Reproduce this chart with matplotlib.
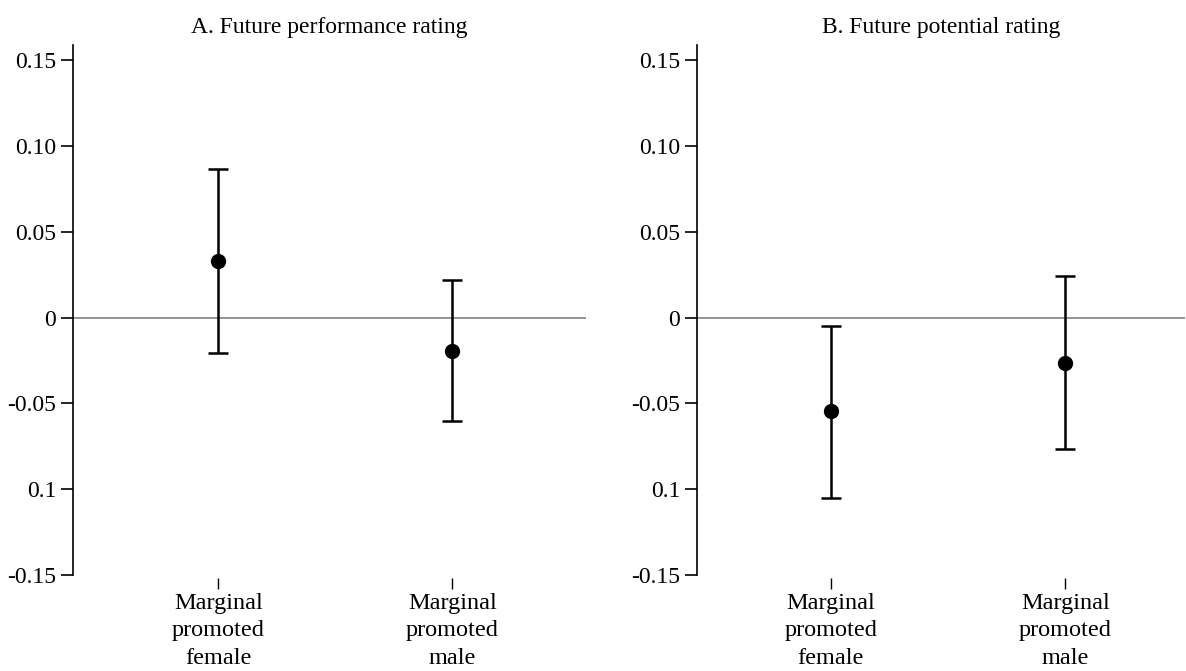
import numpy as np
import matplotlib
matplotlib.use("Agg")
import matplotlib.pyplot as plt

plt.rcParams['font.family'] = ['Liberation Serif', 'DejaVu Serif']

# Data
groups = ["Marginal\npromoted\nfemale", "Marginal\npromoted\nmale"]
titles = ["A. Future performance rating", "B. Future potential rating"]
perf_est = [0.033, -0.0195]
perf_lo = [-0.0205, -0.0605]
perf_hi = [0.0867, 0.0222]
pot_est = [-0.0545, -0.0263]
pot_lo = [-0.105, -0.0765]
pot_hi = [-0.0048, 0.0243]
ytick_vals = [0.15, 0.10, 0.05, 0, -0.05, -0.10, -0.15]
ytick_labels = ["0.15", "0.10", "0.05", "0", "-0.05", "0.1", "-0.15"]

fig = plt.figure(figsize=(11.86, 6.71), dpi=100)
ax_a = fig.add_axes([73 / 1186, 1 - 575 / 671, 513 / 1186, 530 / 671])
ax_b = fig.add_axes([697 / 1186, 1 - 575 / 671, 488 / 1186, 530 / 671])

panels = [
    (ax_a, perf_est, perf_lo, perf_hi, (0.38, 2.57)),
    (ax_b, pot_est, pot_lo, pot_hi, (0.43, 2.51)),
]

for i, (ax, est, lo, hi, xl) in enumerate(panels):
    x = np.arange(1, len(groups) + 1)
    est = np.array(est)
    yerr = [est - np.array(lo), np.array(hi) - est]
    ax.axhline(0, color='#808080', lw=1.2, zorder=1)
    ax.errorbar(x, est, yerr=yerr, fmt='o', color='black', ms=10,
                elinewidth=1.8, capsize=7, capthick=1.8, zorder=3)
    ax.set_xlim(*xl)
    ax.set_ylim(-0.15, 0.159)
    ax.set_yticks(ytick_vals)
    ax.set_yticklabels(ytick_labels)
    ax.set_xticks(x)
    ax.set_xticklabels(groups)
    for s in ['top', 'right', 'bottom']:
        ax.spines[s].set_visible(False)
    ax.spines['left'].set_linewidth(1.2)
    ax.spines['left'].set_bounds(-0.15, 0.159)
    ax.spines['bottom'].set_position(('outward', 2))
    ax.tick_params(axis='y', direction='out', length=9, width=1.2, labelsize=17, pad=3)
    ax.tick_params(axis='x', direction='out', length=8, width=1.0, labelsize=17.5, pad=3)
    for tick in ax.xaxis.get_major_ticks():
        tick.label1.set_linespacing(1.4)
    ax.set_title(titles[i], fontsize=17, pad=9)

fig.savefig("out.png", dpi=100)
